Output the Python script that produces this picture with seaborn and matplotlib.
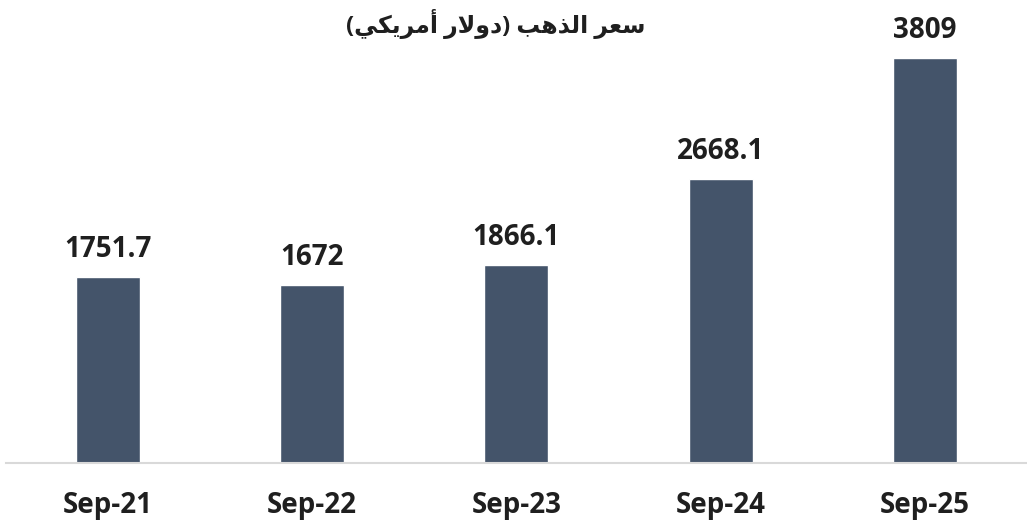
import matplotlib
matplotlib.use("Agg")
import matplotlib.pyplot as plt
import seaborn as sns
import pandas as pd

categories = ["Sep-21", "Sep-22", "Sep-23", "Sep-24", "Sep-25"]
values = [1751.7, 1672, 1866.1, 2668.1, 3809]
value_labels = ["1751.7", "1672", "1866.1", "2668.1", "3809"]
# Arabic title "سعر الذهب (دولار أمريكي)" written with shaped presentation forms in visual order
title_text = ("(\uFEF2\uFEDC\uFEF3\uFEAE\uFEE3\uFE83 \uFEAD\uFEFB\uFEED\uFEA9) "
              "\uFE90\uFEEB\uFEAC\uFEDF\uFE8D \uFEAE\uFECC\uFEB3")

sns.set_theme(style="white")
plt.rcParams["font.family"] = ["Open Sans", "DejaVu Sans"]

df = pd.DataFrame({"cat": categories, "val": values})

fig = plt.figure(figsize=(10.27, 5.23), dpi=100)
ax = fig.add_axes([0.0056, 0.1147, 0.9944, 0.813])
sns.barplot(data=df, x="cat", y="val", color="#44546A", saturation=1,
            width=0.313, ax=ax)
ax.set_ylim(0, 4000)
ax.set_xlim(-0.5, 4.5)
for i, (v, lab) in enumerate(zip(values, value_labels)):
    ax.annotate(lab, (i, v), xytext=(0, 14.5), textcoords="offset points",
                ha="center", va="baseline", fontsize=20, fontweight="bold",
                color="#1f1f1f")
ax.set_xlabel("")
ax.set_ylabel("")
ax.set_yticks([])
for s in ["top", "right", "left"]:
    ax.spines[s].set_visible(False)
ax.spines["bottom"].set_color("#d9d9d9")
ax.spines["bottom"].set_linewidth(1.5)
ax.tick_params(axis="x", length=0, pad=20)
for t in ax.get_xticklabels():
    t.set_fontsize(20)
    t.set_fontweight("bold")
    t.set_color("#1f1f1f")

fig.text(0.483, 0.955, title_text, ha="center", va="center", fontsize=17,
         fontweight="bold", color="#1f1f1f",
         family=["Open Sans", "DejaVu Sans"])

fig.savefig("out.png", dpi=100)
